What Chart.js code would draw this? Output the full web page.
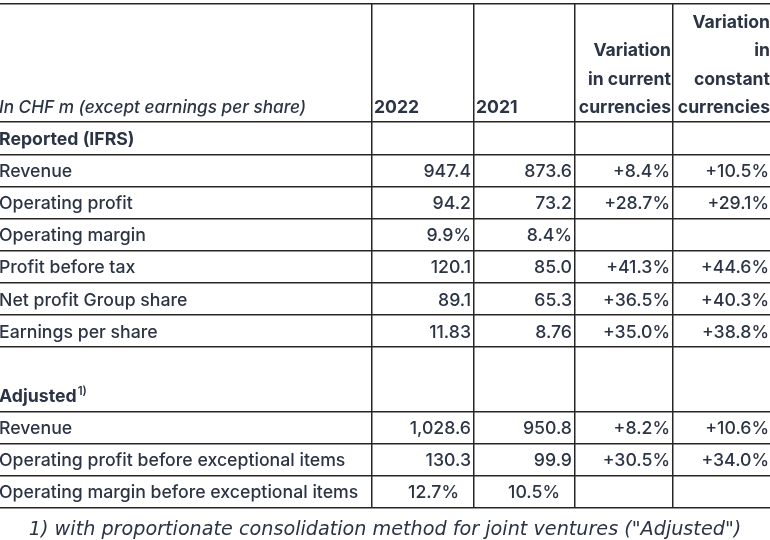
<!DOCTYPE html>
<html>
<head>
<meta charset="utf-8">
<script src="https://cdn.jsdelivr.net/npm/chart.js@4.4.0/dist/chart.umd.min.js"></script>
<style>
  html, body { margin: 0; padding: 0; background: #fff; }
  #wrap { width: 770px; height: 540px; }
</style>
</head>
<body>
<div id="wrap"><canvas id="table"></canvas></div>
<script>
// --- table content ---
const unitNote = 'In CHF m (except earnings per share)';
const yearHeaders = ['2022', '2021'];
const variationHeaders = [
  ['Variation', 'in current', 'currencies'],
  ['Variation', 'in', 'constant', 'currencies']
];
const rowLabels = [
  'Reported (IFRS)', 'Revenue', 'Operating profit', 'Operating margin',
  'Profit before tax', 'Net profit Group share', 'Earnings per share',
  'Adjusted', 'Revenue', 'Operating profit before exceptional items',
  'Operating margin before exceptional items'
];
const sectionRows = ['Reported (IFRS)', 'Adjusted'];
const values2022 = ['', '947.4', '94.2', '9.9%', '120.1', '89.1', '11.83', '', '1,028.6', '130.3', '12.7%'];
const values2021 = ['', '873.6', '73.2', '8.4%', '85.0', '65.3', '8.76', '', '950.8', '99.9', '10.5%'];
const varCurrent = ['', '+8.4%', '+28.7%', '', '+41.3%', '+36.5%', '+35.0%', '', '+8.2%', '+30.5%', ''];
const varConstant = ['', '+10.5%', '+29.1%', '', '+44.6%', '+40.3%', '+38.8%', '', '+10.6%', '+34.0%', ''];
const footnoteMark = '1)';
const footnote = '1) with proportionate consolidation method for joint ventures ("Adjusted")';

// --- layout ---
const colEdges = [0, 372, 474, 575, 673, 772];
const rowHeights = [3.68, 1, 1, 1, 1, 1, 1, 1, 2, 1, 1, 1];
const rowEdges = [0];
rowHeights.forEach(h => rowEdges.push(rowEdges[rowEdges.length - 1] + h));
const rightPad = rowLabels.map((_, i) => i === rowLabels.length - 1 ? 15 : 3);

const textColor = '#2b3445';
const lineColor = '#262626';
const fam = 'Inter, "Noto Sans", sans-serif';

const tableText = {
  id: 'tableText',
  afterDraw(chart) {
    const { ctx, scales: { x, y } } = chart;
    const X = v => x.getPixelForValue(v);
    const Y = v => y.getPixelForValue(v);
    ctx.save();
    ctx.fillStyle = textColor;
    ctx.textBaseline = 'alphabetic';

    // header row, text sits on the bottom of the cell
    const hb = Y(rowEdges[1]) - 9;
    const lh = 28.5;
    ctx.textAlign = 'left';
    ctx.font = 'italic 500 17.2px ' + fam;
    ctx.fillText(unitNote, X(colEdges[0]) - 1, hb);
    ctx.font = '700 17.6px ' + fam;
    yearHeaders.forEach((t, i) => ctx.fillText(t, X(colEdges[i + 1]) + 2, hb));
    ctx.textAlign = 'right';
    variationHeaders.forEach((lines, i) => {
      const xr = X(colEdges[i + 4]) - 2;
      lines.slice().reverse().forEach((t, k) => ctx.fillText(t, xr, hb - k * lh));
    });

    // body rows
    const cols = [values2022, values2021, varCurrent, varConstant];
    rowLabels.forEach((label, r) => {
      const base = Y(rowEdges[r + 2]) - 9.5;
      const isSection = sectionRows.includes(label);
      ctx.textAlign = 'left';
      ctx.font = (isSection ? '700 ' : '500 ') + '17.7px ' + fam;
      ctx.fillText(label, X(colEdges[0]) - 1, base);
      if (label === 'Adjusted') {
        const w = ctx.measureText(label).width;
        ctx.font = '600 11.5px ' + fam;
        ctx.fillText(footnoteMark, X(colEdges[0]) - 1 + w + 1, base - 7);
      }
      ctx.font = '500 17.7px ' + fam;
      ctx.textAlign = 'right';
      cols.forEach((vals, c) => {
        if (vals[r]) ctx.fillText(vals[r], X(colEdges[c + 2]) - rightPad[r], base);
      });
    });
    ctx.restore();
  }
};

new Chart(document.getElementById('table'), {
  type: 'scatter',
  data: { datasets: [] },
  options: {
    responsive: true,
    maintainAspectRatio: false,
    animation: false,
    devicePixelRatio: 1,
    layout: { padding: { top: 4, left: 0, right: 0, bottom: 0 } },
    plugins: {
      legend: { display: false },
      tooltip: { enabled: false },
      title: {
        display: true,
        position: 'bottom',
        text: footnote,
        color: textColor,
        font: { family: '"DejaVu Sans", sans-serif', size: 19.2, style: 'italic', weight: 'normal', lineHeight: 1.05 },
        padding: { top: 12, bottom: 0 }
      }
    },
    scales: {
      x: {
        type: 'linear',
        min: colEdges[0],
        max: 770,
        afterBuildTicks: s => { s.ticks = colEdges.slice(1, -1).map(v => ({ value: v })); },
        ticks: { display: false },
        grid: { color: lineColor, lineWidth: 1.5, drawTicks: false },
        border: { display: false }
      },
      y: {
        type: 'linear',
        reverse: true,
        min: rowEdges[0],
        max: rowEdges[rowEdges.length - 1],
        afterBuildTicks: s => { s.ticks = rowEdges.map(v => ({ value: v })); },
        ticks: { display: false },
        grid: { color: lineColor, lineWidth: 1.5, drawTicks: false },
        border: { display: false }
      }
    }
  },
  plugins: [tableText]
});
</script>
</body>
</html>
